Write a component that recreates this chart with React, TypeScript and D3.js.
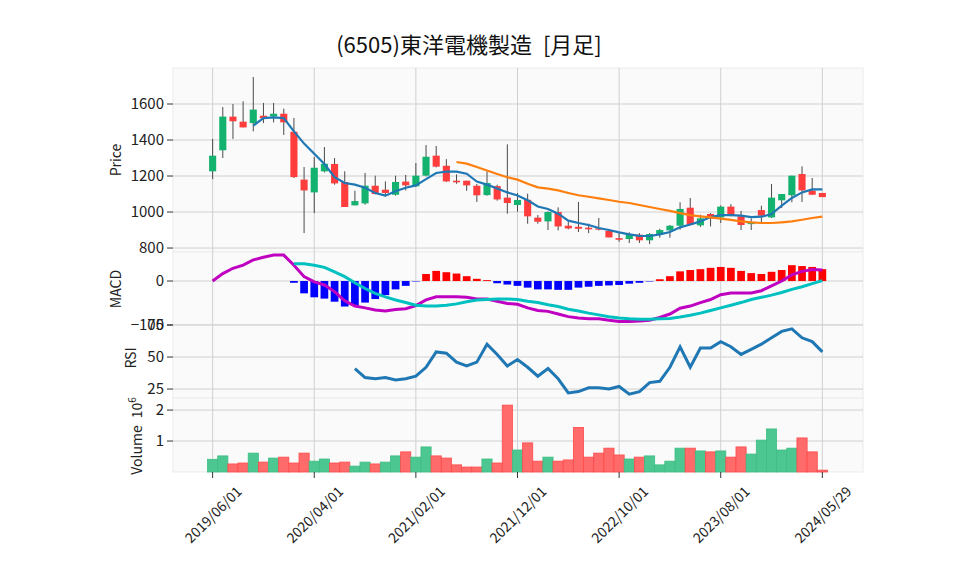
import React from "react";
import * as d3 from "d3";

// monthly candles, last one is the running month
const dates = [
  "2019/06/01", "2019/07/01", "2019/08/01", "2019/09/01", "2019/10/01", "2019/11/01", "2019/12/01",
  "2020/01/01", "2020/02/01", "2020/03/01", "2020/04/01", "2020/05/01", "2020/06/01", "2020/07/01",
  "2020/08/01", "2020/09/01", "2020/10/01", "2020/11/01", "2020/12/01", "2021/01/01", "2021/02/01",
  "2021/03/01", "2021/04/01", "2021/05/01", "2021/06/01", "2021/07/01", "2021/08/01", "2021/09/01",
  "2021/10/01", "2021/11/01", "2021/12/01", "2022/01/01", "2022/02/01", "2022/03/01", "2022/04/01",
  "2022/05/01", "2022/06/01", "2022/07/01", "2022/08/01", "2022/09/01", "2022/10/01", "2022/11/01",
  "2022/12/01", "2023/01/01", "2023/02/01", "2023/03/01", "2023/04/01", "2023/05/01", "2023/06/01",
  "2023/07/01", "2023/08/01", "2023/09/01", "2023/10/01", "2023/11/01", "2023/12/01", "2024/01/01",
  "2024/02/01", "2024/03/01", "2024/04/01", "2024/05/01", "2024/05/29",
];

const opens = [
  1226, 1343, 1530, 1502, 1494, 1535, 1531, 1546, 1446, 1180, 1109, 1226, 1267, 1167, 1037, 1048,
  1146, 1124, 1096, 1169, 1143, 1202, 1313, 1257, 1174, 1174, 1146, 1094, 1144, 1080, 1039, 1068,
  969, 948, 1000, 924, 918, 913, 909, 896, 855, 850, 874, 843, 876, 898, 924, 1024, 926, 989, 970,
  1030, 976, 933, 1011, 970, 1065, 1093, 1211, 1119, 1106,
];
const highs = [
  1406, 1583, 1600, 1615, 1750, 1606, 1606, 1574, 1522, 1250, 1306, 1361, 1300, 1226, 1118, 1217,
  1202, 1170, 1202, 1206, 1272, 1372, 1367, 1294, 1209, 1174, 1156, 1226, 1152, 1376, 1106, 1102,
  983, 1004, 1026, 948, 1056, 935, 967, 906, 883, 887, 883, 883, 907, 928, 1054, 1078, 985, 994,
  1037, 1044, 1006, 965, 1035, 1156, 1100, 1202, 1254, 1189, 1106,
];
const lows = [
  1183, 1300, 1406, 1470, 1448, 1494, 1498, 1428, 1189, 883, 994, 1220, 1152, 1028, 1037, 1041,
  1098, 1087, 1091, 1120, 1139, 1198, 1248, 1167, 1157, 1118, 1056, 1091, 1063, 991, 1002, 935,
  935, 900, 898, 904, 889, 883, 898, 859, 835, 828, 828, 822, 857, 857, 902, 926, 917, 920, 939,
  976, 900, 900, 935, 967, 1022, 1054, 1056, 1094, 1083,
];
const closes = [
  1313, 1530, 1504, 1470, 1569, 1522, 1546, 1498, 1194, 1120, 1246, 1268, 1159, 1028, 1061, 1146,
  1100, 1106, 1167, 1148, 1202, 1307, 1252, 1170, 1165, 1148, 1093, 1161, 1070, 1050, 1067, 976,
  946, 1000, 920, 909, 907, 904, 902, 859, 846, 876, 843, 878, 900, 924, 1017, 930, 965, 963, 1030,
  983, 928, 943, 980, 1080, 1100, 1202, 1120, 1096, 1083,
];
const volumes = [
  410000, 520000, 260000, 290000, 610000, 320000, 450000, 480000, 290000, 610000,
  350000, 420000, 290000, 320000, 190000, 320000, 260000, 320000, 520000, 650000,
  480000, 810000, 520000, 450000, 230000, 160000, 160000, 420000, 290000, 2160000,
  710000, 940000, 350000, 480000, 350000, 390000, 1440000, 480000, 610000, 770000,
  550000, 420000, 480000, 520000, 230000, 350000, 770000, 770000, 680000, 650000,
  680000, 480000, 810000, 580000, 1030000, 1390000, 710000, 770000, 1100000, 650000,
  60000,
];

// moving averages (5 and 25 months)
const ma5Start = 4;
const ma5 = [
  1480, 1522, 1526, 1522, 1448, 1380, 1324, 1267, 1194, 1161, 1152, 1135, 1106, 1091, 1115, 1135,
  1148, 1183, 1217, 1224, 1224, 1213, 1169, 1152, 1131, 1109, 1092, 1065, 1031, 1017, 991, 952,
  939, 928, 911, 900, 887, 876, 868, 867, 876, 889, 915, 931, 948, 972, 983, 983, 980, 972, 974,
  989, 1035, 1078, 1109, 1126, 1126,
];
const ma25Start = 24;
const ma25 = [
  1278, 1269, 1250, 1231, 1211, 1193, 1180, 1157, 1137, 1130, 1120, 1106, 1093, 1085, 1076, 1067,
  1057, 1050, 1039, 1028, 1017, 1006, 994, 983, 976, 970, 963, 956, 948, 943, 939, 939, 943, 948,
  957, 967, 974,
];

const macdLine = [
  0, 17, 29, 36, 48, 54, 59, 59, 36, 10, -2, -9, -24, -45, -57, -61, -66, -68, -65, -63, -56, -43,
  -36, -36, -36, -37, -41, -41, -46, -51, -53, -61, -67, -69, -75, -81, -84, -86, -86, -89, -92,
  -92, -91, -89, -83, -75, -62, -57, -49, -42, -31, -27, -27, -27, -22, -11, 0, 14, 22, 26, 25,
];
const signalStart = 8;
const macdSignal = [
  39, 39, 36, 31, 21, 10, -4, -17, -28, -36, -43, -49, -55, -57, -57, -55, -52, -47, -43, -42, -41,
  -41, -42, -46, -49, -54, -58, -64, -68, -73, -77, -81, -84, -86, -87, -87, -86, -85, -82, -78,
  -73, -67, -61, -55, -49, -42, -37, -32, -26, -19, -13, -6, 1,
];
const macdHist = [
  -4, -28, -37, -40, -47, -58, -55, -49, -41, -32, -19, -11, -1, 16, 23, 20, 17, 11, 5, 2, -5, -8,
  -11, -15, -19, -19, -20, -20, -15, -13, -11, -10, -9, -6, -4, -1, 4, 11, 22, 25, 27, 30, 32, 30,
  23, 18, 16, 21, 25, 36, 34, 32, 27,
];

const rsiStart = 14;
const rsi = [
  41, 34, 33, 34, 32, 33, 35, 42, 54, 53, 46, 43, 46, 60, 52, 43, 48, 42, 35, 41, 33, 22, 23, 26,
  26, 25, 27, 21, 23, 30, 31, 42, 58, 42, 57, 57, 62, 58, 52, 56, 60, 65, 70, 72, 65, 62, 54,
];

const priceTicks = [800, 1000, 1200, 1400, 1600];
const macdTicks = [-100, 0];
const rsiTicks = [25, 50, 75];
const volTicks = [1000000, 2000000];
const xTickIdx = [0, 10, 20, 30, 40, 50, 60];

const FONT = "'Noto Sans CJK JP', 'DejaVu Sans', sans-serif";
const UP = "#14b26f";
const DOWN = "#ff3d3d";

export default function App() {
  const left = 173,
    right = 863;
  const x = d3.scaleLinear().domain([-3.9, 64]).range([left, right]);
  const yP = d3.scaleLinear().domain([778, 1800]).range([252, 68]);
  const yM = d3.scaleLinear().domain([-100, 66]).range([325, 252]);
  const yR = d3.scaleLinear().domain([18, 75]).range([398, 325]);
  const yV = d3.scaleLinear().domain([0, 2390000]).range([472, 398]);
  const step = x(1) - x(0);

  const panels = [
    { top: 68, bottom: 252, y: yP, ticks: priceTicks, fmt: (d) => String(d) },
    { top: 252, bottom: 325, y: yM, ticks: macdTicks, fmt: (d) => (d < 0 ? "\u2212" + -d : String(d)) },
    { top: 325, bottom: 398, y: yR, ticks: rsiTicks, fmt: (d) => String(d) },
    { top: 398, bottom: 472, y: yV, ticks: volTicks, fmt: (d) => String(d / 1e6) },
  ];

  const lineFrom = (scale, start) =>
    d3
      .line<number>()
      .x((d, i) => x(i + start))
      .y((d) => scale(d));

  return (
    <svg width={958} height={575} style={{ position: "absolute", left: 0, top: 0, background: "#fff" }} fontFamily={FONT}>
      {/* panel backgrounds + horizontal grid + y ticks */}
      {panels.map((p, k) => (
        <g key={"p" + k}>
          <rect x={left} y={p.top} width={right - left} height={p.bottom - p.top} fill="#fafafa" stroke="#ebebeb" />
          {p.ticks.map((t) => (
            <g key={t}>
              <line x1={left} x2={right} y1={p.y(t)} y2={p.y(t)} stroke="#d0d0d0" strokeWidth={1} />
              <line x1={left - 6} x2={left} y1={p.y(t)} y2={p.y(t)} stroke="#333" strokeWidth={1} />
              <text x={left - 9} y={p.y(t)} dy="0.35em" textAnchor="end" fontSize={15} fill="#222">
                {p.fmt(t)}
              </text>
            </g>
          ))}
        </g>
      ))}

      {/* vertical grid */}
      {xTickIdx.map((i) => (
        <line key={"v" + i} x1={x(i)} x2={x(i)} y1={68} y2={472} stroke="#d0d0d0" strokeWidth={1} />
      ))}

      {/* candles */}
      {dates.map((d, i) => {
        const up = closes[i] >= opens[i];
        const c = up ? UP : DOWN;
        const top = yP(Math.max(opens[i], closes[i]));
        const bot = yP(Math.min(opens[i], closes[i]));
        return (
          <g key={"c" + i}>
            <line x1={x(i)} x2={x(i)} y1={yP(highs[i])} y2={yP(lows[i])} stroke="#4a4a4a" strokeWidth={1} />
            <rect x={x(i) - step * 0.35} y={top} width={step * 0.7} height={Math.max(bot - top, 1)} fill={c} />
          </g>
        );
      })}
      <path d={lineFrom(yP, ma5Start)(ma5)} fill="none" stroke="#1f77b4" strokeWidth={2.2} />
      <path d={lineFrom(yP, ma25Start)(ma25)} fill="none" stroke="#ff7f0e" strokeWidth={2.2} />

      {/* MACD */}
      {macdHist.map((h, k) => {
        const i = k + signalStart;
        return (
          <rect
            key={"h" + i}
            x={x(i) - step * 0.38}
            y={Math.min(yM(h), yM(0))}
            width={step * 0.76}
            height={Math.abs(yM(h) - yM(0))}
            fill={h >= 0 ? "#ff0000" : "#0000ff"}
          />
        );
      })}
      <path d={lineFrom(yM, 0)(macdLine)} fill="none" stroke="#c000c0" strokeWidth={3} />
      <path d={lineFrom(yM, signalStart)(macdSignal)} fill="none" stroke="#00c0c0" strokeWidth={3} />

      {/* RSI */}
      <path d={lineFrom(yR, rsiStart)(rsi)} fill="none" stroke="#1f77b4" strokeWidth={3} />

      {/* volume */}
      {volumes.map((v, i) => {
        const up = i === 0 || closes[i] >= closes[i - 1];
        return (
          <rect
            key={"vol" + i}
            x={x(i) - step / 2}
            y={yV(v)}
            width={step}
            height={yV(0) - yV(v)}
            fill={up ? "#4cc791" : "#ff6b6b"}
            stroke={up ? "#3dbd84" : "#ff4a4a"}
            strokeWidth={0.8}
          />
        );
      })}

      {/* x axis */}
      {xTickIdx.map((i) => (
        <g key={"xt" + i}>
          <line x1={x(i)} x2={x(i)} y1={472} y2={478} stroke="#333" />
          <text
            x={x(i)}
            y={514}
            textAnchor="middle"
            dominantBaseline="central"
            fontSize={14}
            fill="#222"
            transform={`rotate(-45, ${x(i)}, 514)`}
          >
            {dates[i]}
          </text>
        </g>
      ))}

      {/* axis labels */}
      <text transform="translate(121,160) rotate(-90)" textAnchor="middle" fontSize={14} fill="#222">
        Price
      </text>
      <text transform="translate(121,289) rotate(-90)" textAnchor="middle" fontSize={14} fill="#222">
        MACD
      </text>
      <text transform="translate(136,358) rotate(-90)" textAnchor="middle" fontSize={14} fill="#222">
        RSI
      </text>
      <text transform="translate(142,436) rotate(-90)" textAnchor="middle" fontSize={14} fill="#222">
        Volume{"\u2002"}10<tspan dy="-6" fontSize={10}>6</tspan>
      </text>

      <text x={469} y={53} textAnchor="middle" fontSize={22} fill="#111">
        (6505)東洋電機製造{"\u2002"}[月足]
      </text>
    </svg>
  );
}
